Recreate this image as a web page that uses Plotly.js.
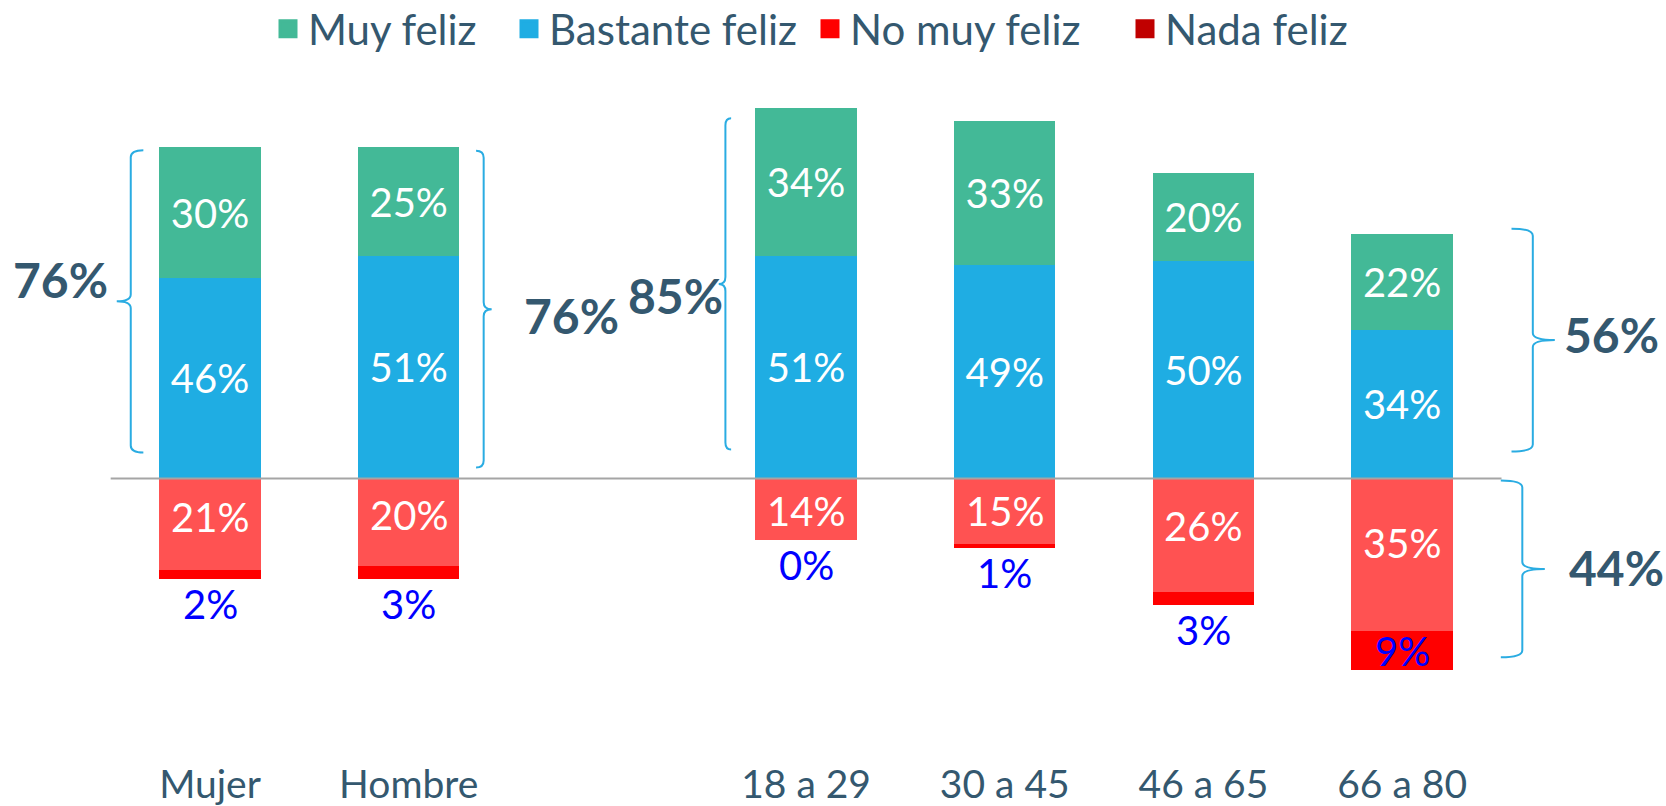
<!DOCTYPE html>
<html><head><meta charset="utf-8">
<script src="https://cdn.plot.ly/plotly-3.0.1.min.js"></script>
<style>html,body{margin:0;padding:0;background:#fff}#chart{width:1666px;height:806px}</style>
</head><body><div id="chart"></div>
<script>
// ---- data ----
const categories = ['Mujer', 'Hombre', '18 a 29', '30 a 45', '46 a 65', '66 a 80'];
const muyFeliz = [30, 25, 34, 33, 20, 22];
const bastanteFeliz = [46, 51, 51, 49, 50, 34];
const noMuyFeliz = [21, 20, 14, 15, 26, 35];
const nadaFeliz = [2, 3, 0, 1, 3, 9];
const seriesNames = ['Muy feliz', 'Bastante feliz', 'No muy feliz', 'Nada feliz'];

// ---- layout / style ----
const slots = [0, 1, 3, 4, 5, 6];          // slot of each category (gap after Hombre)
const W = 1666, H = 806;
const M = {l: 0, r: 0, t: 70, b: 48};
const xRange = [-1.057, 7.328];
const yRange = [-64.1, 93.7];
const pxX = (W - M.l - M.r) / (xRange[1] - xRange[0]);
const pxY = (H - M.t - M.b) / (yRange[1] - yRange[0]);
const BW = 0.51;
const FONT = 'Lato, "Liberation Sans", sans-serif';
const DARK = '#34586F';
const barColors = {muy: '#43B997', bast: '#1FADE3', nomuy: '#FF5252', nada: '#FF0000'};
const legendColors = ['#43B997', '#1FADE3', '#FF0000', '#C00000'];
const legendWidths = [196, 256, 270, null];
const BRACE = '#2AACE2';

const pct = v => v + '%';
const posTotal = muyFeliz.map((v, i) => v + bastanteFeliz[i]);
const negTotal = noMuyFeliz.map((v, i) => v + nadaFeliz[i]);

const traces = [
  {type: 'bar', name: seriesNames[2], x: slots, y: noMuyFeliz.map(v => -v), width: BW,
   marker: {color: barColors.nomuy}, showlegend: false, hoverinfo: 'skip'},
  {type: 'bar', name: seriesNames[3], x: slots, y: nadaFeliz.map(v => -v), width: BW,
   marker: {color: barColors.nada}, showlegend: false, hoverinfo: 'skip'},
  {type: 'bar', name: seriesNames[1], x: slots, y: bastanteFeliz, width: BW,
   marker: {color: barColors.bast}, text: bastanteFeliz.map(pct), textposition: 'inside',
   insidetextanchor: 'middle', textangle: 0, textfont: {family: FONT, size: 40, color: '#fff'},
   showlegend: false, hoverinfo: 'skip'},
  {type: 'bar', name: seriesNames[0], x: slots, y: muyFeliz, width: BW,
   marker: {color: barColors.muy}, text: muyFeliz.map(pct), textposition: 'inside',
   insidetextanchor: 'middle', textangle: 0, textfont: {family: FONT, size: 40, color: '#fff'},
   showlegend: false, hoverinfo: 'skip'}
];
// legend entries
seriesNames.forEach((n, i) => {
  const t = {type: 'scatter', mode: 'markers', name: n, x: [null], y: [null],
    marker: {symbol: 'square', size: 16, color: legendColors[i], line: {color: legendColors[i], width: 3}},
    hoverinfo: 'skip'};
  if (legendWidths[i]) t.legendwidth = legendWidths[i];
  traces.push(t);
});

const annotations = [];
// white labels inside "No muy feliz"
noMuyFeliz.forEach((v, i) => {
  annotations.push({x: slots[i], y: -Math.max(7.5, v * 0.42), xref: 'x', yref: 'y', text: pct(v),
    showarrow: false, font: {family: FONT, size: 40, color: '#fff'}});
});
// blue labels for "Nada feliz"
nadaFeliz.forEach((v, i) => {
  const y = v >= 5 ? -(noMuyFeliz[i] + v / 2) : -negTotal[i] - 25 / pxY;
  annotations.push({x: slots[i], y: y, xref: 'x', yref: 'y', text: pct(v),
    showarrow: false, font: {family: FONT, size: 40, color: '#0000FF'}});
});

// braces
const brackets = [
  {i: 0, side: 'left',  sign: 'pos', line: 28.6, end: 16,   tip: 42.6, topIn: 3,    botIn: 26, lx: -6.7, ly: 22,  anchor: 'right'},
  {i: 1, side: 'right', sign: 'pos', line: 24.3, end: 16.7, tip: 32.3, topIn: 3.7,  botIn: 11, lx: 30.7, ly: -6,  anchor: 'left'},
  {i: 2, side: 'left',  sign: 'pos', line: 30,   end: 24.3, tip: 36.7, topIn: 10.4, botIn: 29, lx: 6.7,  ly: -12, anchor: 'right'},
  {i: 5, side: 'right', sign: 'pos', line: 80,   end: 58.7, tip: 102,  topIn: -5.7, botIn: 27, lx: 6.7,  ly: 5.7, anchor: 'left'},
  {i: 5, side: 'right', sign: 'neg', line: 69.5, end: 48,   tip: 92,   topIn: 2,    botIn: 13, lx: 22.5, ly: 1.6, anchor: 'left'}
];
const shapes = [];
brackets.forEach(b => {
  const dir = b.side === 'left' ? -1 : 1;
  const edge = slots[b.i] + dir * BW / 2;
  const xLine = edge + dir * b.line / pxX;
  const xEnd = edge + dir * b.end / pxX;
  const xTip = edge + dir * b.tip / pxX;
  const total = b.sign === 'pos' ? posTotal[b.i] : negTotal[b.i];
  const yTop = (b.sign === 'pos' ? total : 0) - b.topIn / pxY;
  const yBot = (b.sign === 'pos' ? 0 : -total) + b.botIn / pxY;
  const yMid = (yTop + yBot) / 2;
  const r = 7 / pxY;
  const path = `M${xEnd},${yTop} Q${xLine},${yTop} ${xLine},${yTop - r} L${xLine},${yMid + r} ` +
    `Q${xLine},${yMid} ${xTip},${yMid} Q${xLine},${yMid} ${xLine},${yMid - r} ` +
    `L${xLine},${yBot + r} Q${xLine},${yBot} ${xEnd},${yBot}`;
  shapes.push({type: 'path', xref: 'x', yref: 'y', path: path, line: {color: BRACE, width: 2}});
  annotations.push({x: xTip, y: yMid, xref: 'x', yref: 'y', text: pct(total), showarrow: false,
    xanchor: b.anchor, yanchor: 'middle', xshift: b.lx, yshift: b.ly,
    font: {family: FONT, size: 48, color: DARK, weight: 'bold'}});
});
// zero line
shapes.push({type: 'line', xref: 'x', yref: 'y', x0: slots[0] - 0.5, x1: slots[slots.length - 1] + 0.5,
  y0: 0, y1: 0, line: {color: '#A5A5A5', width: 2}, layer: 'above'});

const layout = {
  width: W, height: H, margin: M, paper_bgcolor: '#fff', plot_bgcolor: '#fff',
  barmode: 'relative', bargap: 0,
  font: {family: FONT, color: DARK},
  xaxis: {range: xRange, tickvals: slots, ticktext: categories, showgrid: false, zeroline: false,
    showline: false, ticks: '', tickfont: {family: FONT, size: 39, color: DARK}, fixedrange: true},
  yaxis: {range: yRange, visible: false, fixedrange: true},
  showlegend: true,
  legend: {orientation: 'h', xref: 'container', yref: 'container', x: 268 / W, xanchor: 'left',
    y: 1 - 29 / H, yanchor: 'middle', font: {family: FONT, size: 42, color: DARK},
    bgcolor: 'rgba(0,0,0,0)', itemclick: false, itemdoubleclick: false},
  annotations: annotations, shapes: shapes
};
Plotly.newPlot('chart', traces, layout, {displayModeBar: false, staticPlot: true});
</script>
</body></html>
